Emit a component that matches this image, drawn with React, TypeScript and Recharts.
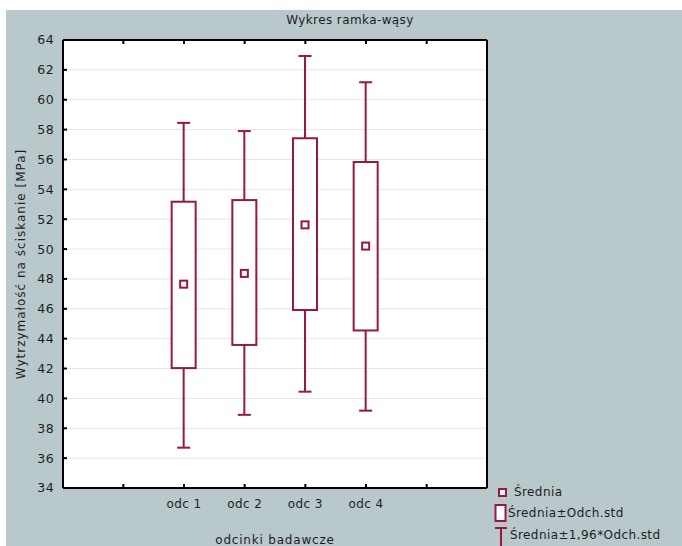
import React from 'react';
import { ComposedChart, Bar, XAxis, YAxis, CartesianGrid } from 'recharts';

const categories = ['', 'odc 1', 'odc 2', 'odc 3', 'odc 4', ' '];
const means = [null, 47.65, 48.37, 51.62, 50.2, null];
const sdLow = [null, 42.03, 43.58, 45.92, 44.55, null];
const sdHigh = [null, 53.17, 53.28, 57.42, 55.83, null];
const whiskerLow = [null, 36.7, 38.9, 40.45, 39.18, null];
const whiskerHigh = [null, 58.45, 57.9, 62.93, 61.17, null];
const yTicks = [34, 36, 38, 40, 42, 44, 46, 48, 50, 52, 54, 56, 58, 60, 62, 64];

const title = 'Wykres ramka-wąsy';
const yLabel = 'Wytrzymałość na ściskanie [MPa]';
const xLabel = 'odcinki badawcze';
const legendLabels = ['Średnia', 'Średnia±Odch.std', 'Średnia±1,96*Odch.std'];

const data = categories.map((name, i) => ({
  name,
  mean: means[i],
  sdLow: sdLow[i],
  sdHigh: sdHigh[i],
  wLow: whiskerLow[i],
  wHigh: whiskerHigh[i],
}));

const BOX = '#981842';
const FONT = '"DejaVu Sans", Verdana, sans-serif';
const TEXT = '#1e1e1e';

const BoxShape = (props: any) => {
  const { x, y, width, height, payload } = props;
  if (!payload || payload.mean == null || !isFinite(y) || !isFinite(height)) return <g />;
  const hi = payload.wHigh;
  const lo = payload.wLow;
  const py = (v: number) => y + (height * (hi - v)) / (hi - lo);
  const cx = x + width / 2;
  const capW = 13;
  const yTop = py(hi);
  const yBot = py(lo);
  const bTop = py(payload.sdHigh);
  const bBot = py(payload.sdLow);
  const m = py(payload.mean);
  return (
    <g>
      <line x1={cx} x2={cx} y1={yTop} y2={bTop} stroke={BOX} strokeWidth={2} />
      <line x1={cx} x2={cx} y1={bBot} y2={yBot} stroke={BOX} strokeWidth={2} />
      <line x1={cx - capW / 2} x2={cx + capW / 2} y1={yTop} y2={yTop} stroke={BOX} strokeWidth={2} />
      <line x1={cx - capW / 2} x2={cx + capW / 2} y1={yBot} y2={yBot} stroke={BOX} strokeWidth={2} />
      <rect x={x} y={bTop} width={width} height={bBot - bTop} fill="#fff" stroke={BOX} strokeWidth={2} />
      <rect x={cx - 3.5} y={m - 3.5} width={7} height={7} fill="#fff" stroke={BOX} strokeWidth={2} />
    </g>
  );
};

const LegendBlock = () => (
  <div
    style={{
      position: 'absolute',
      left: 494,
      top: 483,
      fontFamily: FONT,
      fontSize: 12,
      color: TEXT,
      letterSpacing: 0.4,
      lineHeight: '19px',
    }}
  >
    <div style={{ display: 'flex', alignItems: 'center', height: 19 }}>
      <svg width={20} height={19}>
        <rect x={5} y={6} width={7} height={7} fill="#fff" stroke={BOX} strokeWidth={2} />
      </svg>
      <span>{legendLabels[0]}</span>
    </div>
    <div style={{ display: 'flex', alignItems: 'center', height: 22 }}>
      <svg width={14} height={22}>
        <rect x={1.5} y={3} width={10} height={16} fill="#fff" stroke={BOX} strokeWidth={2} />
      </svg>
      <span>{legendLabels[1]}</span>
    </div>
    <div style={{ display: 'flex', alignItems: 'center', height: 22 }}>
      <svg width={16} height={22}>
        <line x1={1} x2={13} y1={4} y2={4} stroke={BOX} strokeWidth={2} />
        <line x1={7} x2={7} y1={4} y2={22} stroke={BOX} strokeWidth={2} />
      </svg>
      <span>{legendLabels[2]}</span>
    </div>
  </div>
);

const tickStyle = { fontFamily: FONT, fontSize: 12, fill: TEXT, letterSpacing: 0.4 };
const axisLineStyle = { stroke: '#000', strokeWidth: 2 };
const tickLineStyle = { stroke: '#000', strokeWidth: 2 };

export default function App() {
  return (
    <div style={{ position: 'absolute', left: 0, top: 0, width: 682, height: 546, background: '#fff', overflow: 'hidden' }}>
      <div style={{ position: 'absolute', left: 6, top: 10, right: 0, bottom: 0, background: '#b9c8cb' }} />
      <div
        style={{
          position: 'absolute',
          left: 250,
          width: 200,
          top: 13,
          textAlign: 'center',
          fontFamily: FONT,
          fontSize: 12,
          color: TEXT,
          letterSpacing: 0.4,
        }}
      >
        {title}
      </div>
      <div style={{ position: 'absolute', left: 0, top: 0 }}>
        <ComposedChart
          width={682}
          height={546}
          data={data}
          margin={{ top: 39, right: 194, bottom: 0, left: 0 }}
        >
          <CartesianGrid vertical={false} horizontal={true} fill="#fff" stroke="#e6e6e6" strokeWidth={1} yAxisId={0} />
          <XAxis
            dataKey="name"
            type="category"
            allowDuplicatedCategory={true}
            padding={{ left: 30, right: 30 }}
            height={58}
            axisLine={axisLineStyle}
            tickLine={tickLineStyle}
            tickSize={-4}
            tickMargin={15}
            tick={tickStyle}
            interval={0}
            label={{ value: xLabel, position: 'insideBottom', offset: 2, style: { ...tickStyle, letterSpacing: 0.8 } }}
          />
          <XAxis
            xAxisId="top"
            dataKey="name"
            type="category"
            orientation="top"
            allowDuplicatedCategory={true}
            padding={{ left: 30, right: 30 }}
            height={1}
            axisLine={axisLineStyle}
            tickLine={tickLineStyle}
            tickSize={-4}
            tickFormatter={() => ''}
            interval={0}
          />
          <YAxis
            yAxisId={0}
            type="number"
            domain={[34, 64]}
            ticks={yTicks}
            interval={0}
            width={63}
            axisLine={axisLineStyle}
            tickLine={tickLineStyle}
            tickSize={-4}
            tickMargin={13}
            tick={{ ...tickStyle, fontSize: 12.5 }}
            label={{ value: yLabel, angle: -90, position: 'center', dx: -11, style: { ...tickStyle, letterSpacing: 1.0 } }}
          />
          <YAxis
            yAxisId="r"
            orientation="right"
            type="number"
            domain={[34, 64]}
            ticks={yTicks}
            interval={0}
            width={1}
            axisLine={axisLineStyle}
            tickLine={tickLineStyle}
            tickSize={-4}
            tickFormatter={() => ''}
          />
          <Bar
            yAxisId={0}
            dataKey={(d: any) => (d.mean == null ? null : [d.wLow, d.wHigh])}
            barSize={24}
            shape={<BoxShape />}
            isAnimationActive={false}
          />
        </ComposedChart>
      </div>
      <LegendBlock />
    </div>
  );
}
